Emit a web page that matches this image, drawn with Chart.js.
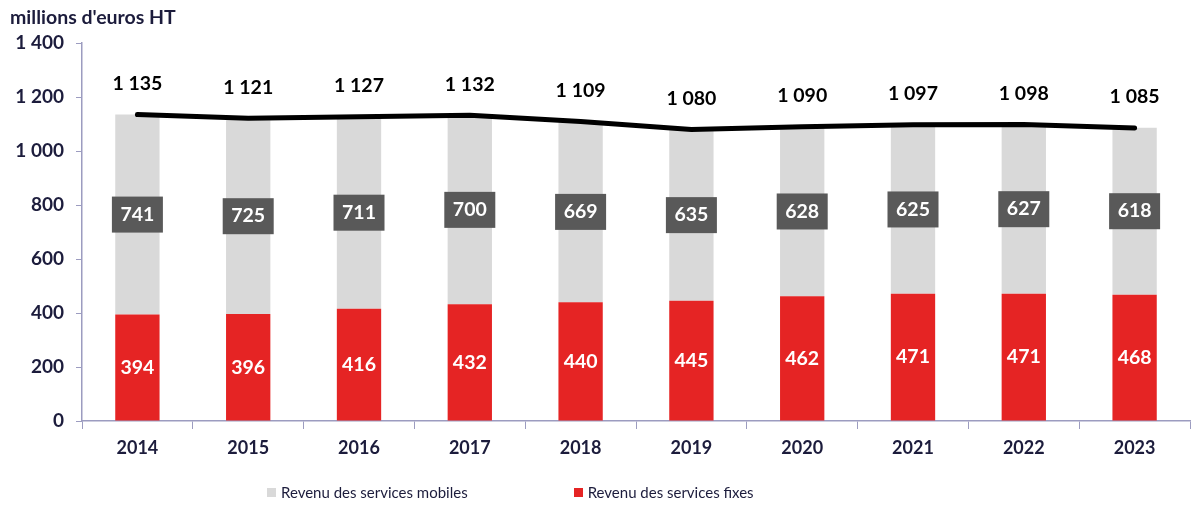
<!DOCTYPE html>
<html>
<head>
<meta charset="utf-8">
<script src="https://cdn.jsdelivr.net/npm/chart.js@4"></script>
<style>
  body { margin: 0; background: #fff; }
  #wrap { position: relative; width: 1193px; height: 510px; }
  #legend { position: absolute; left: 267px; top: 483px; display: flex; font-family: Lato, sans-serif; font-size: 15px; color: #1c1c3c; }
  #legend .item { display: flex; align-items: center; margin-right: 106px; }
  #legend .box { width: 9px; height: 9px; margin-right: 5px; }
</style>
</head>
<body>
<div id="wrap">
  <canvas id="chart" width="1193" height="510"></canvas>
  <div id="legend"></div>
</div>
<script>
const categories = ["2014", "2015", "2016", "2017", "2018", "2019", "2020", "2021", "2022", "2023"];
const fixes = [394, 396, 416, 432, 440, 445, 462, 471, 471, 468];
const mobiles = [741, 725, 711, 700, 669, 635, 628, 625, 627, 618];
const totals = [1135, 1121, 1127, 1132, 1109, 1080, 1090, 1097, 1098, 1085];
const yTicks = [0, 200, 400, 600, 800, 1000, 1200, 1400];

const FONT = "Lato, sans-serif";
const NAVY = "#1c1c3c";
const AXIS = "#9c9cc0";

function fmt(n) {
  if (n < 1000) return String(n);
  const rest = String(n % 1000).padStart(3, "0");
  return Math.floor(n / 1000) + " " + rest;
}

const labelPlugin = {
  id: "labels",
  afterDatasetsDraw(chart) {
    const ctx = chart.ctx;
    const redMeta = chart.getDatasetMeta(0);
    const greyMeta = chart.getDatasetMeta(1);
    const lineMeta = chart.getDatasetMeta(2);
    ctx.save();
    ctx.textAlign = "center";
    ctx.textBaseline = "middle";
    ctx.font = "bold 19.5px " + FONT;
    redMeta.data.forEach((el, i) => {
      ctx.fillStyle = "#ffffff";
      ctx.fillText(fmt(fixes[i]), el.x, (el.y + el.base) / 2);
    });
    greyMeta.data.forEach((el, i) => {
      const cy = (el.y + el.base) / 2;
      ctx.fillStyle = "#595959";
      ctx.fillRect(el.x - 25.5, cy - 18, 51, 36);
      ctx.fillStyle = "#ffffff";
      ctx.fillText(fmt(mobiles[i]), el.x, cy);
    });
    lineMeta.data.forEach((el, i) => {
      ctx.fillStyle = "#000000";
      ctx.fillText(fmt(totals[i]), el.x, el.y - 31);
    });
    ctx.restore();
  }
};

const chart = new Chart(document.getElementById("chart"), {
  type: "bar",
  data: {
    labels: categories,
    datasets: [
      {
        label: "Revenu des services fixes",
        data: fixes,
        backgroundColor: "#e52424",
        stack: "rev",
        order: 1,
        barPercentage: 0.4,
        categoryPercentage: 1,
      },
      {
        label: "Revenu des services mobiles",
        data: mobiles,
        backgroundColor: "#d9d9d9",
        stack: "rev",
        order: 1,
        barPercentage: 0.4,
        categoryPercentage: 1,
      },
      {
        type: "line",
        label: "Total",
        data: totals,
        borderColor: "#000000",
        borderWidth: 5,
        borderCapStyle: "round",
        borderJoinStyle: "round",
        pointRadius: 0,
        tension: 0,
        stack: "total",
        order: 0,
      },
    ],
  },
  options: {
    responsive: false,
    animation: false,
    layout: { padding: { left: 10, right: 3, top: 0, bottom: 0 } },
    scales: {
      x: {
        stacked: true,
        grid: { offset: true, drawOnChartArea: false, drawTicks: true, tickLength: 8, color: AXIS },
        border: { color: AXIS, width: 1.5 },
        ticks: { color: NAVY, font: { family: FONT, size: 18, weight: "bold" }, padding: 8 },
        afterFit: (s) => { s.height = 89; },
      },
      y: {
        stacked: true,
        min: 0,
        max: 1400,
        afterBuildTicks: (s) => { s.ticks = yTicks.map((v) => ({ value: v })); },
        grid: { drawOnChartArea: false, drawTicks: true, tickLength: 6, color: AXIS },
        border: { color: AXIS, width: 1.5 },
        ticks: {
          color: NAVY,
          font: { family: FONT, size: 19, weight: "bold" },
          padding: 12,
          callback: (v) => fmt(v),
        },
        afterFit: (s) => { s.width = 72; },
      },
    },
    plugins: {
      legend: { display: false },
      tooltip: { enabled: false },
      title: {
        display: true,
        text: "millions d'euros HT",
        align: "start",
        color: NAVY,
        font: { family: FONT, size: 19.5, weight: "bold" },
        padding: { top: 6, bottom: 13.6 },
      },
    },
  },
  plugins: [labelPlugin],
});

// legend in the reference's order: mobiles first, then fixes
const legendDiv = document.getElementById("legend");
[1, 0].forEach((idx) => {
  const ds = chart.data.datasets[idx];
  const item = document.createElement("div");
  item.className = "item";
  const box = document.createElement("span");
  box.className = "box";
  box.style.background = ds.backgroundColor;
  const txt = document.createElement("span");
  txt.textContent = ds.label;
  item.appendChild(box);
  item.appendChild(txt);
  legendDiv.appendChild(item);
});
</script>
</body>
</html>
